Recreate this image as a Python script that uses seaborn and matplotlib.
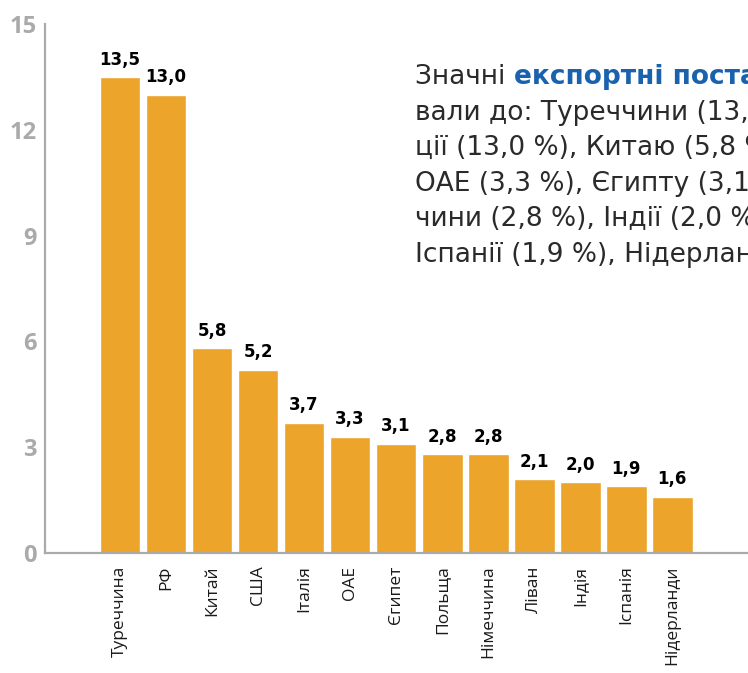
import pandas as pd
import matplotlib.pyplot as plt
import seaborn as sns

# Export shares by country, %
countries = ['Туреччина', 'РФ', 'Китай', 'США', 'Італія', 'ОАЕ', 'Єгипет',
             'Польща', 'Німеччина', 'Ліван', 'Індія', 'Іспанія', 'Нідерланди']
shares = [13.5, 13.0, 5.8, 5.2, 3.7, 3.3, 3.1, 2.8, 2.8, 2.1, 2.0, 1.9, 1.6]
y_ticks = [0, 3, 6, 9, 12, 15]

df = pd.DataFrame({'country': countries, 'share': shares})

sns.set_style('white')
plt.rcParams['font.family'] = ['Open Sans', 'DejaVu Sans']

fig = plt.figure(figsize=(7.48, 6.73), dpi=100)
ax = fig.add_axes([0.0602, 0.1783, 1.0, 0.786])

sns.barplot(data=df, x='country', y='share', color='#eca42b', saturation=1,
            width=0.89, ax=ax)

ax.set_xlim(-1.63, 14.63)
ax.set_ylim(0, 15)
ax.set_yticks(y_ticks)
ax.set_xlabel('')
ax.set_ylabel('')

for s in ['top', 'right']:
    ax.spines[s].set_visible(False)
for s in ['left', 'bottom']:
    ax.spines[s].set_color('#aaaaaa')
    ax.spines[s].set_linewidth(1.6)

ax.tick_params(axis='y', direction='in', length=8.5, width=1.6, color='#aaaaaa',
               labelcolor='#aaaaaa', labelsize=17, pad=6)
for lab in ax.get_yticklabels():
    lab.set_fontweight('bold')
ax.tick_params(axis='x', length=0, labelsize=12.5, pad=9, labelrotation=90,
               labelcolor='#1a1a1a')

labels = [f'{v:.1f}'.replace('.', ',') for v in shares]
ax.bar_label(ax.containers[0], labels=labels, padding=6, fontsize=12,
             fontweight='bold', family='DejaVu Sans', color='black')

# Text block on the right (runs off the right edge as in the source)
fs = 19
body = 'DejaVu Sans'
t1 = fig.text(0.555, 0.866, 'Значні ', fontsize=fs, color='#2a2a2a',
              family=body, va='bottom', ha='left')
ax.annotate('експортні постачання', xy=(1, 0), xycoords=t1,
            fontsize=fs, fontweight='bold', color='#1a62ad', family=body,
            va='bottom', ha='left', annotation_clip=False)
rest = ['вали до: Туреччини (13,5 %),',
        'ції (13,0 %), Китаю (5,8 %),',
        'ОАЕ (3,3 %), Єгипту (3,1 %),',
        'чини (2,8 %), Індії (2,0 %),',
        'Іспанії (1,9 %), Нідерландів']
for i, line in enumerate(rest):
    fig.text(0.555, 0.866 - (i + 1) * 0.0528, line, fontsize=fs,
             color='#2a2a2a', family=body, va='bottom', ha='left')

fig.savefig('out.png', dpi=100)
